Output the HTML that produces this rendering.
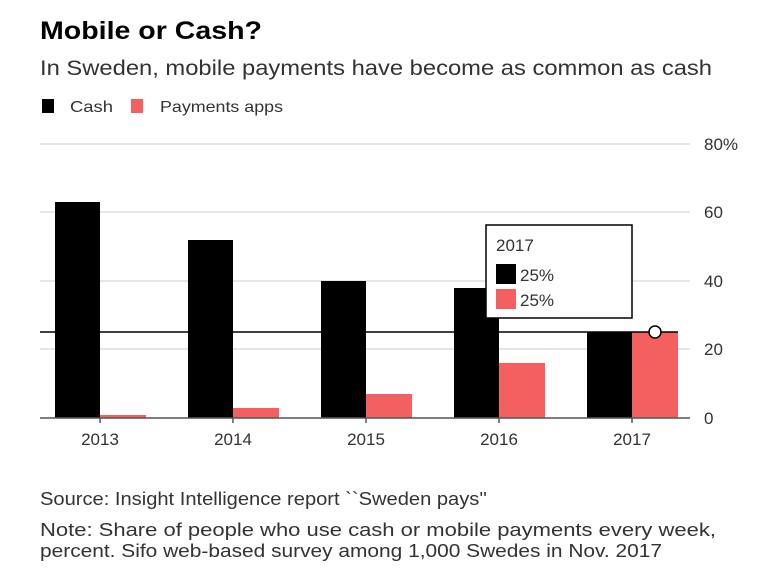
<!DOCTYPE html>
<html><head><style>
body{margin:0;background:#fff;width:768px;height:583px;overflow:hidden;font-family:"Liberation Sans",sans-serif;color:#222}
</style></head><body>
<svg width="768" height="583" xmlns="http://www.w3.org/2000/svg" font-family="Liberation Sans, sans-serif">
<text x="40" y="39" font-size="25" font-weight="bold" fill="#000" textLength="222" lengthAdjust="spacingAndGlyphs">Mobile or Cash?</text>
<text x="40" y="75" font-size="21" fill="#333" textLength="672" lengthAdjust="spacingAndGlyphs">In Sweden, mobile payments have become as common as cash</text>
<rect x="42" y="99" width="12" height="14" fill="#000"/>
<text x="70" y="112" font-size="16" fill="#333" textLength="43" lengthAdjust="spacingAndGlyphs">Cash</text>
<rect x="131" y="99" width="12" height="14" fill="#f46060"/>
<text x="160" y="112" font-size="16" fill="#333" textLength="123" lengthAdjust="spacingAndGlyphs">Payments apps</text>
<g stroke="#ddd" stroke-width="1.5">
<line x1="40" x2="690" y1="144" y2="144"/><line x1="40" x2="690" y1="212" y2="212"/>
<line x1="40" x2="690" y1="281" y2="281"/><line x1="40" x2="690" y1="349" y2="349"/>
</g>
<g font-size="17" fill="#333">
<text x="704" y="150">80%</text><text x="704" y="218">60</text><text x="704" y="287">40</text>
<text x="704" y="355">20</text><text x="704" y="424">0</text>
</g>
<g fill="#000">
<rect x="55" y="202" width="45" height="216"/><rect x="188" y="240" width="45" height="178"/>
<rect x="321" y="281" width="45" height="137"/><rect x="454" y="288" width="45" height="130"/>
<rect x="587" y="332" width="45" height="86"/>
</g>
<g fill="#f46060">
<rect x="100" y="415" width="46" height="3"/><rect x="233" y="408" width="46" height="10"/>
<rect x="366" y="394" width="46" height="24"/><rect x="499" y="363" width="46" height="55"/>
<rect x="632" y="332" width="46" height="86"/>
</g>
<line x1="40" x2="678" y1="332" y2="332" stroke="#000" stroke-width="1.5"/>
<line x1="40" x2="690" y1="418" y2="418" stroke="#555" stroke-width="1.5"/>
<g stroke="#555" stroke-width="1.5">
<line x1="100" x2="100" y1="418" y2="423"/><line x1="233" x2="233" y1="418" y2="423"/>
<line x1="366" x2="366" y1="418" y2="423"/><line x1="499" x2="499" y1="418" y2="423"/>
<line x1="632" x2="632" y1="418" y2="423"/>
</g>
<g font-size="17" fill="#333" text-anchor="middle">
<text x="100" y="445">2013</text><text x="233" y="445">2014</text><text x="366" y="445">2015</text>
<text x="499" y="445">2016</text><text x="632" y="445">2017</text>
</g>
<circle cx="655" cy="332" r="6" fill="#fff" stroke="#000" stroke-width="1.5"/>
<rect x="486" y="225" width="146" height="93" fill="#fff" stroke="#000" stroke-width="1.5"/>
<text x="496" y="251" font-size="17" fill="#333">2017</text>
<rect x="496" y="264" width="20" height="20" fill="#000"/>
<text x="520" y="281" font-size="17" fill="#333">25%</text>
<rect x="496" y="289" width="20" height="20" fill="#f46060"/>
<text x="520" y="306" font-size="17" fill="#333">25%</text>
<g font-size="18" fill="#333" lengthAdjust="spacingAndGlyphs">
<text x="40" y="505" textLength="447" lengthAdjust="spacingAndGlyphs">Source: Insight Intelligence report ``Sweden pays''</text>
<text x="40" y="536" textLength="676" lengthAdjust="spacingAndGlyphs">Note: Share of people who use cash or mobile payments every week,</text>
<text x="40" y="557" textLength="622" lengthAdjust="spacingAndGlyphs">percent. Sifo web-based survey among 1,000 Swedes in Nov. 2017</text>
</g>
</svg>
</body></html>
